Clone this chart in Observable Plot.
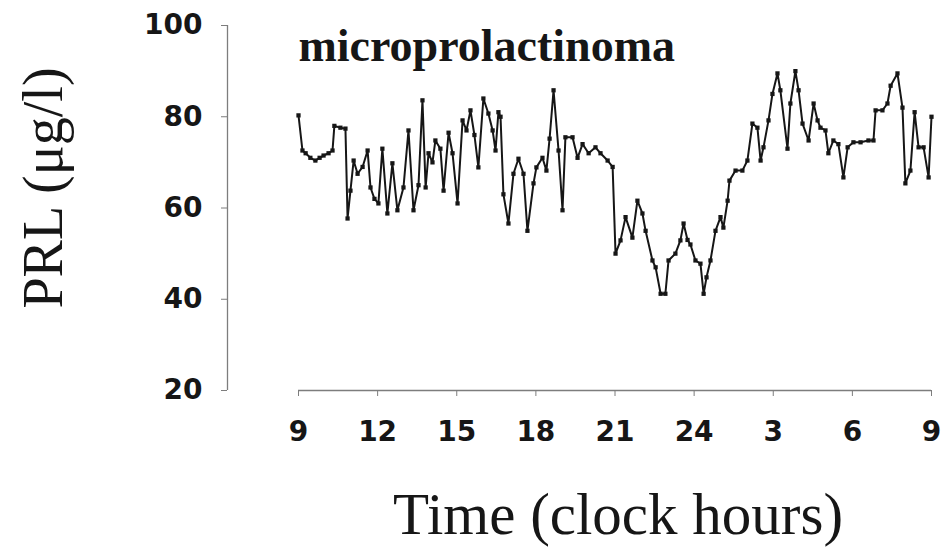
<!DOCTYPE html>
<html>
<head>
<meta charset="utf-8">
<script src="https://cdn.jsdelivr.net/npm/d3@7"></script>
<script src="https://cdn.jsdelivr.net/npm/@observablehq/plot@0.6"></script>
<style>
  html, body { margin: 0; padding: 0; background: #fff; }
  #chart svg { display: block; }
</style>
</head>
<body>
<div id="chart"></div>
<script>
// Serum prolactin over 24 h, time counted in hours from 09:00
const hoursFromNine = [
  0.00, 0.15, 0.27, 0.45, 0.64, 0.80, 0.95, 1.14, 1.29, 1.36,
  1.59, 1.78, 1.86, 1.97, 2.09, 2.24, 2.43, 2.62, 2.73, 2.88,
  3.03, 3.18, 3.37, 3.56, 3.75, 3.98, 4.17, 4.36, 4.55, 4.70,
  4.82, 4.93, 5.08, 5.19, 5.38, 5.50, 5.69, 5.84, 6.03, 6.22,
  6.37, 6.52, 6.67, 6.82, 7.01, 7.20, 7.36, 7.47, 7.58, 7.66,
  7.77, 7.96, 8.15, 8.34, 8.53, 8.68, 8.91, 9.02, 9.25, 9.40,
  9.52, 9.67, 9.86, 10.01, 10.12, 10.39, 10.58, 10.77, 11.00, 11.26,
  11.45, 11.72, 11.91, 12.02, 12.21, 12.40, 12.66, 12.85, 13.04, 13.16,
  13.42, 13.54, 13.73, 13.91, 14.03, 14.29, 14.48, 14.60, 14.75, 14.86,
  15.05, 15.24, 15.36, 15.47, 15.62, 15.81, 16.00, 16.11, 16.27, 16.34,
  16.57, 16.83, 17.02, 17.21, 17.40, 17.52, 17.63, 17.82, 17.97, 18.16,
  18.27, 18.54, 18.65, 18.84, 18.96, 19.11, 19.34, 19.53, 19.68, 19.79,
  19.98, 20.09, 20.28, 20.47, 20.66, 20.82, 21.04, 21.31, 21.61, 21.80,
  21.88, 22.14, 22.33, 22.45, 22.71, 22.90, 23.01, 23.20, 23.36, 23.51,
  23.70, 23.89, 24.00
];
const prl = [
  80.3, 72.6, 72.0, 71.0, 70.4, 71.0, 71.5, 72.0, 72.6, 78.0,
  77.6, 77.4, 57.7, 63.8, 70.4, 67.5, 69.0, 72.6, 64.5, 62.0,
  61.0, 73.0, 58.8, 69.8, 59.5, 64.5, 77.0, 59.5, 65.0, 83.6,
  64.5, 72.0, 70.0, 74.8, 73.0, 63.8, 76.5, 72.0, 61.0, 79.2,
  77.0, 81.4, 76.0, 68.9, 84.0, 80.7, 77.0, 72.6, 81.0, 80.0,
  63.0, 56.6, 67.5, 70.8, 67.5, 55.0, 65.4, 68.9, 71.0, 68.2,
  75.2, 85.8, 72.6, 59.5, 75.5, 75.5, 71.0, 74.0, 72.0, 73.3,
  72.0, 70.4, 69.0, 50.0, 52.9, 58.0, 53.5, 61.6, 58.8, 55.0,
  48.5, 47.0, 41.2, 41.2, 48.5, 50.0, 52.9, 56.6, 53.0, 52.0,
  48.5, 47.8, 41.2, 44.8, 48.5, 55.0, 58.0, 55.7, 61.6, 66.0,
  68.2, 68.2, 70.4, 78.5, 77.6, 70.4, 73.3, 79.2, 85.0, 89.5,
  85.8, 73.0, 82.9, 90.0, 85.8, 78.5, 74.8, 82.9, 79.2, 77.6,
  77.0, 72.0, 74.8, 74.0, 66.7, 73.3, 74.4, 74.4, 74.8, 74.8,
  81.4, 81.4, 82.9, 86.8, 89.5, 82.0, 65.4, 68.2, 81.0, 73.3,
  73.3, 66.7, 80.0
];

// Axis ticks: x in hours from 09:00, labelled by clock hour
const xTicks = [0, 3, 6, 9, 12, 15, 18, 21, 24];
const xTickLabels = ["9", "12", "15", "18", "21", "24", "3", "6", "9"];
const yTicks = [20, 40, 60, 80, 100];

const panelTitle = "microprolactinoma";
const yTitle = "PRL (μg/l)";
const xTitle = "Time (clock hours)";

const series = hoursFromNine.map((t, i) => ({t, v: prl[i]}));

const axisGray = "#7d7d7d";
const ink = "#161616";
const serif = "'Liberation Serif', 'DejaVu Serif', serif";
const yAxisOffset = 71; // the y axis stands apart, to the left of the data

const chart = Plot.plot({
  width: 948,
  height: 548,
  marginLeft: 298,
  marginRight: 17,
  marginTop: 25,
  marginBottom: 158,
  style: {background: "#fff", fontFamily: "'DejaVu Sans', sans-serif", overflow: "visible"},
  x: {domain: [xTicks[0], xTicks[xTicks.length - 1]]},
  y: {domain: [yTicks[0], yTicks[yTicks.length - 1]]},
  marks: [
    // x axis line and ticks
    Plot.ruleY([yTicks[0]], {x1: xTicks[0], x2: xTicks[xTicks.length - 1], stroke: axisGray, strokeWidth: 1.3}),
    Plot.axisX({
      ticks: xTicks,
      tickFormat: d => xTickLabels[xTicks.indexOf(d)],
      tickSize: 6, tickPadding: 25,
      fontSize: 28, fontWeight: "bold",
      stroke: axisGray, fill: ink, label: null
    }),
    // detached y axis
    Plot.ruleX([xTicks[0]], {y1: yTicks[0], y2: yTicks[yTicks.length - 1], dx: -yAxisOffset, stroke: axisGray, strokeWidth: 1.3}),
    Plot.axisY({
      ticks: yTicks,
      tickSize: 6, tickPadding: 19, dx: -yAxisOffset,
      fontSize: 28, fontWeight: "bold",
      stroke: axisGray, fill: ink, label: null
    }),
    // the prolactin profile
    Plot.line(series, {x: "t", y: "v", stroke: ink, strokeWidth: 2}),
    Plot.dot(series, {x: "t", y: "v", symbol: "square", r: 2.4, fill: ink}),
    // panel title and axis titles
    Plot.text([panelTitle], {
      text: d => d, frameAnchor: "top-left", textAnchor: "start", lineAnchor: "top",
      dy: 3, fontSize: 46, fontWeight: "bold", fontFamily: serif, fill: ink
    }),
    Plot.text([xTitle], {
      text: d => d, frameAnchor: "bottom", textAnchor: "middle", lineAnchor: "middle",
      dx: 3, dy: 125, fontSize: 59, fontFamily: serif, fill: ink
    }),
    Plot.text([yTitle], {
      text: d => d, frameAnchor: "left", textAnchor: "middle", rotate: -90, lineAnchor: "middle",
      dx: -254, dy: -20, fontSize: 56, fontFamily: serif, fill: ink,
      ariaLabel: "y title"
    })
  ]
});

// Set the unit in the y title with an italic μg
const yText = d3.select(chart).select('g[aria-label="y title"] text');
if (!yText.empty()) {
  yText.text(null);
  yText.append("tspan").text("PRL (");
  yText.append("tspan").attr("font-style", "italic").text("μg");
  yText.append("tspan").text("/l)");
}

document.getElementById("chart").appendChild(chart);
</script>
</body>
</html>
